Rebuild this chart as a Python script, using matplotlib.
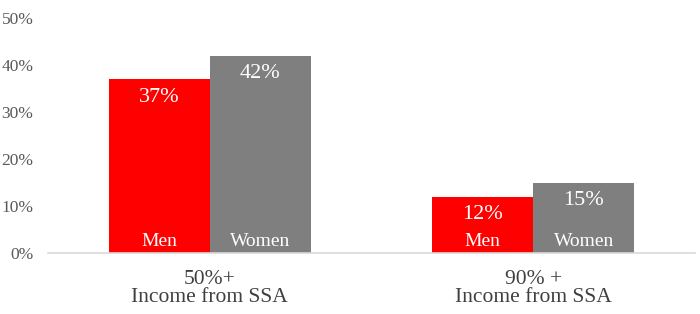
import matplotlib.pyplot as plt
import numpy as np

plt.rcParams["font.family"] = ["Liberation Serif", "DejaVu Serif"]

categories = ["50%+\nIncome from SSA", "90% +\nIncome from SSA"]
series_names = ["Men", "Women"]
men_values = [0.37, 0.12]
women_values = [0.42, 0.15]
value_labels_men = ["37%", "12%"]
value_labels_women = ["42%", "15%"]
y_ticks = [0, 0.1, 0.2, 0.3, 0.4, 0.5]
y_tick_labels = ["0%", "10%", "20%", "30%", "40%", "50%"]

fig = plt.figure(figsize=(7, 3.14), dpi=100)
ax = fig.add_axes([48 / 700, 1 - 253 / 314, 647 / 700, 235 / 314])

x = np.arange(len(categories))
width = 0.312
colors = ["#ff0000", "#7f7f7f"]

for i, (vals, labels, name) in enumerate(zip([men_values, women_values],
                                             [value_labels_men, value_labels_women],
                                             series_names)):
    pos = x + (i - 0.5) * width
    ax.bar(pos, vals, width, color=colors[i])
    for p, v, lab in zip(pos, vals, labels):
        ax.annotate(lab, (p, v), xytext=(0, -18), textcoords="offset pixels",
                    ha="center", va="center", color="white", fontsize=16)
        ax.annotate(name, (p, 0), xytext=(0, 12), textcoords="offset pixels",
                    ha="center", va="center", color="white", fontsize=14)

ax.set_xlim(-0.5, 1.5)
ax.set_ylim(0, 0.5)
ax.set_yticks(y_ticks)
ax.set_yticklabels(y_tick_labels, color="#595959", fontsize=12.5)
ax.set_xticks(x)
ax.set_xticklabels(categories, color="#404040", fontsize=15.5, linespacing=0.95)
ax.tick_params(axis="y", length=0, pad=10.5)
ax.tick_params(axis="x", length=0, pad=12)

for side in ["top", "right", "left"]:
    ax.spines[side].set_visible(False)
ax.spines["bottom"].set_color("#d9d9d9")
ax.spines["bottom"].set_linewidth(1.2)

fig.savefig("out.png", dpi=100)
